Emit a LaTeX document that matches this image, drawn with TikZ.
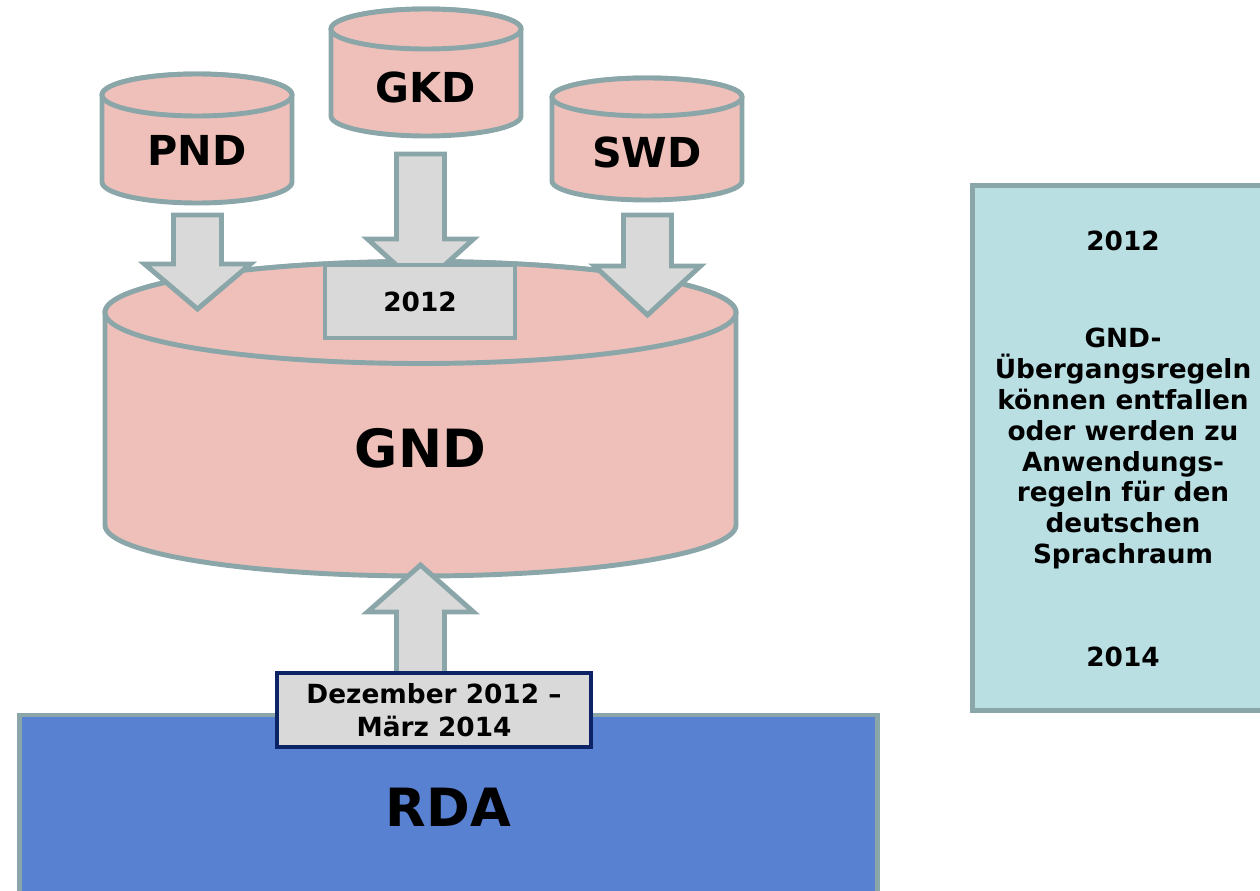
\documentclass[tikz,border=0pt]{standalone}
\usepackage{fontspec}
\setmainfont{DejaVu Sans}
\usetikzlibrary{calc}
\definecolor{dbpink}{HTML}{EFC0B9}
\definecolor{dbline}{HTML}{8BA6A8}
\definecolor{boxgray}{HTML}{D9D9D9}
\definecolor{noteteal}{HTML}{B9DFE3}
\definecolor{rdablue}{HTML}{5981D2}
\definecolor{darknavy}{HTML}{0C2466}
\tikzset{
  dbcyl/.style={draw=dbline, fill=dbpink, line width=2.8pt},
  cyllabel/.style={font=\bfseries\fontsize{23.5}{28}\selectfont, inner sep=0pt},
  biglabel/.style={font=\bfseries\fontsize{30}{36}\selectfont, inner sep=0pt},
  blockarrow/.style={draw=dbline, fill=boxgray, line width=2.8pt, line join=miter},
  yearbox/.style={draw=dbline, fill=boxgray, line width=2.8pt, inner sep=0pt, minimum width=3.8cm, minimum height=1.46cm, font=\bfseries\fontsize{15}{18}\selectfont},
  periodbox/.style={draw=darknavy, fill=boxgray, line width=2.8pt, inner sep=0pt, align=center, minimum width=6.28cm, minimum height=1.48cm, font=\bfseries\fontsize{15}{18.7}\selectfont},
  rdablock/.style={draw=dbline, fill=rdablue, line width=2.8pt, inner sep=0pt, minimum width=17.18cm, minimum height=3.7cm, font=\bfseries\fontsize{30}{36}\selectfont},
  notebox/.style={draw=dbline, fill=noteteal, line width=2.8pt, inner sep=0pt, minimum width=6.08cm, minimum height=10.52cm},
  notetext/.style={align=center, inner sep=0pt, font=\bfseries\fontsize{15}{17.6}\selectfont}
}
% cylinder: [label style] name, cx, ytop, ybot, rx, ry, ytext, label
\newcommand{\dbcyl}[9][cyllabel]{%
  \filldraw[dbcyl] ({#3-#6},#4) -- ({#3-#6},#5)
    arc[start angle=180, end angle=0, x radius=#6, y radius=#7]
    -- ({#3+#6},#4)
    arc[start angle=0, end angle=-180, x radius=#6, y radius=#7] -- cycle;
  \draw[dbcyl] (#3,#4) ellipse[x radius=#6, y radius=#7];
  \node[#1] (#2) at (#3,#8) {#9};}
% block arrow: start, tip, signed head length
\newcommand{\blockarrow}[3]{%
  \draw[blockarrow] ($(#1)+(-24,0)$) -- ($(#2)+(-24,#3)$) -- ($(#2)+(-53,#3)$)
    -- (#2) -- ($(#2)+(53,#3)$) -- ($(#2)+(24,#3)$) -- ($(#1)+(24,0)$) -- cycle;}

\begin{document}
\begin{tikzpicture}[x=0.02cm, y=-0.02cm]
  \useasboundingbox (0,0) rectangle (1260,891);

  % source files
  \dbcyl{pnd}{197}{95}{182}{95}{21}{150}{PND}
  \dbcyl{gkd}{426}{29}{116}{95}{20}{87}{GKD}
  \dbcyl{swd}{647}{97}{181}{95}{19}{152}{SWD}
  % joint file
  \dbcyl[biglabel]{gnd}{420.5}{312.5}{525}{315.5}{51}{448}{GND}

  \coordinate (pndout) at (197.5,215);
  \coordinate (pndin) at (197.5,309);
  \coordinate (gkdout) at (420.5,154);
  \coordinate (gkdin) at (420.5,287);
  \coordinate (swdout) at (647.5,215);
  \coordinate (swdin) at (647.5,315);
  \coordinate (rdaout) at (420.5,690);
  \coordinate (gndin) at (420.5,565);

  \blockarrow{pndout}{pndin}{-45}
  \blockarrow{swdout}{swdin}{-49}
  \blockarrow{gkdout}{gkdin}{-48}
  \node[yearbox] (start) at (420,301.5) {2012};

  \node[rdablock] (rda) at (448.5,807.5) {RDA};
  \blockarrow{rdaout}{gndin}{47}
  \node[periodbox] (period) at (434,710) {Dezember 2012 –\\März 2014};

  % transition rules
  \node[notebox] (note) at (1124,448) {};
  \node[notetext] (notefrom) at (1123,241) {2012};
  \node[notetext] (notebody) at (1123,448.5) {GND-\\Übergangsregeln\\können entfallen\\oder werden zu\\Anwendungs-\\regeln für den\\deutschen\\Sprachraum};
  \node[notetext] (noteto) at (1123,657) {2014};
\end{tikzpicture}
\end{document}
